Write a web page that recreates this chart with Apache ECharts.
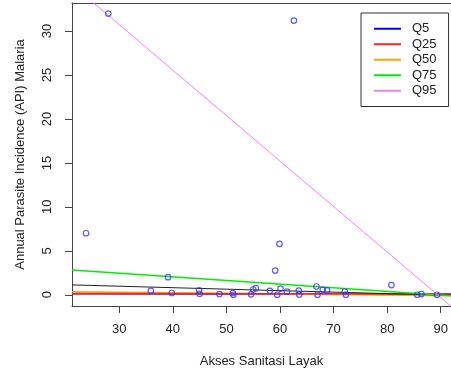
<!DOCTYPE html>
<html><head><meta charset="utf-8">
<script src="https://cdn.jsdelivr.net/npm/echarts@6/dist/echarts.min.js"></script>
<style>html,body{margin:0;padding:0;background:#fff}#c{width:451px;height:376px}</style>
</head><body><div id="c"></div>
<script>
// Scatter data: [Akses Sanitasi Layak, API Malaria]
const sanitasi = [27.95,62.6,23.8,59.9,59.1,39.1,80.8,35.9,39.8,44.9,45.0,48.7,51.2,51.3,54.6,55.0,55.5,58.1,59.5,60.1,61.3,63.5,63.6,66.8,67.0,68.0,68.8,72.1,72.3,85.6,86.4,89.3];
const api      = [32.0,31.2,7.0,5.8,2.75,2.0,1.1,0.45,0.2,0.5,0.1,0.08,0.2,0.0,0.05,0.6,0.75,0.45,0.0,0.7,0.35,0.48,0.03,0.94,0.0,0.56,0.49,0.37,0.0,0.0,0.08,0.0];
// Fitted quantile lines, evaluated at the plot edges
const lineX = [21.18, 91.92];
const q5  = [0.12, 0.06];
const q25 = [0.15, 0.08];
const q50 = [0.34, -0.11];
const q75 = [2.82, -0.10];
const q95 = [35.3, -1.3];
const fitBlack = [1.12, -0.07];
const xTicks = [30,40,50,60,70,80,90];
const yTicks = [0,5,10,15,20,25,30];

const font = 'Liberation Sans, Arial, sans-serif';
const pts = sanitasi.map((x,i)=>[x, api[i]]);
const mk = ys => lineX.map((x,i)=>[x, ys[i]]);
function lineSeries(name, ys, color, width, z){
  return {name, type:'line', data: mk(ys), symbol:'none', silent:true, z,
    lineStyle:{color, width}, itemStyle:{color}, clip:true, animation:false};
}
const axisCol = '#444';
const chart = echarts.init(document.getElementById('c'), null, {renderer:'canvas'});
chart.setOption({
  animation:false,
  backgroundColor:'#fff',
  grid:{left:72, top:3, right:0, bottom:70, show:false},
  legend:{
    data:['Q5','Q25','Q50','Q75','Q95'],
    orient:'vertical', left:361, top:13,
    icon:'rect', itemWidth:27, itemHeight:2, itemGap:0,
    padding:[8,12,8,13],
    borderColor:'#333', borderWidth:1, backgroundColor:'#fff',
    textStyle:{fontFamily:font, fontSize:13, color:'#222', lineHeight:15.5, padding:[0,0,0,6]}
  },
  xAxis:[{
    type:'value', min:21.18, max:91.92, position:'bottom',
    name:'Akses Sanitasi Layak', nameLocation:'middle', nameGap:49,
    nameTextStyle:{fontFamily:font, fontSize:13, color:'#222'},
    axisLine:{show:true, onZero:false, lineStyle:{color:axisCol, width:1}},
    splitLine:{show:false},
    axisTick:{show:true, length:7, inside:false, customValues:xTicks, lineStyle:{color:axisCol}},
    axisLabel:{customValues:xTicks, margin:17, fontFamily:font, fontSize:13, color:'#222'}
  },{
    type:'value', min:21.18, max:91.92, position:'top',
    axisLine:{show:true, onZero:false, lineStyle:{color:axisCol, width:1}},
    splitLine:{show:false}, axisTick:{show:false}, axisLabel:{show:false}
  }],
  yAxis:{
    type:'value', min:-1.28, max:33.2,
    name:'Annual Parasite Incidence (API) Malaria', nameLocation:'middle', nameGap:45, nameRotate:90,
    nameTextStyle:{fontFamily:font, fontSize:13, color:'#222'},
    axisLine:{show:true, onZero:false, lineStyle:{color:axisCol, width:1}},
    splitLine:{show:false},
    axisTick:{show:true, length:7, inside:false, customValues:yTicks, lineStyle:{color:axisCol}},
    axisLabel:{customValues:yTicks, rotate:90, margin:18, fontFamily:font, fontSize:13, color:'#222'}
  },
  series:[
    lineSeries('Q5', q5, '#0000FF', 1.5, 2),
    lineSeries('Q50', q50, '#FFA500', 1.5, 3),
    lineSeries('Q25', q25, '#FF2020', 1.5, 4),
    lineSeries('Q75', q75, '#00EE00', 1.5, 5),
    lineSeries('Q95', q95, '#EE82EE', 1, 6),
    lineSeries('fit', fitBlack, '#222222', 1, 4.5),
    {name:'data', type:'scatter', data:pts, symbol:'circle', symbolSize:5.5, z:7,
     itemStyle:{color:'rgba(0,0,0,0)', borderColor:'#3333FF', borderWidth:1.2}, silent:true}
  ]
});
</script></body></html>
